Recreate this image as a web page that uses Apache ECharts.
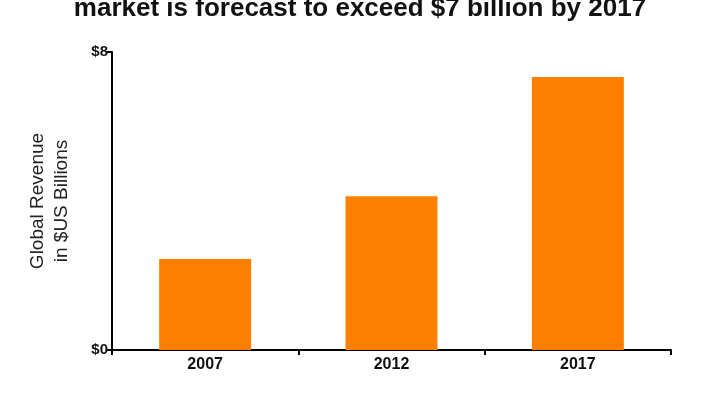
<!DOCTYPE html><html><head><meta charset="utf-8"><script src="https://cdn.jsdelivr.net/npm/echarts@6/dist/echarts.min.js"></script></head><body style="margin:0;background:#fff"><div id="c" style="width:720px;height:405px"></div><script>
const categories=['2007','2012','2017'];
const revenue=[2.44,4.13,7.33];
const yTicks=['$0','$8'];
const ch=echarts.init(document.getElementById('c'));
ch.setOption({animation:false,backgroundColor:'#fff',
title:{text:'market is forecast to exceed $7 billion by 2017',left:'center',top:-9,textStyle:{fontFamily:'Liberation Sans',fontSize:26,fontWeight:'bold',color:'#111'}},
grid:{left:112,right:49,top:52,bottom:55},
xAxis:{type:'category',data:categories,axisLine:{lineStyle:{color:'#000',width:2}},axisTick:{show:true,length:5,lineStyle:{color:'#000',width:2}},axisLabel:{color:'#111',fontFamily:'Liberation Sans',fontWeight:'bold',fontSize:16,margin:7}},
yAxis:{type:'value',min:0,max:8,interval:8,name:'Global Revenue\nin $US Billions',nameLocation:'middle',nameGap:38,nameTextStyle:{fontFamily:'Liberation Sans',fontSize:19,color:'#222',lineHeight:24},
axisLine:{show:true,lineStyle:{color:'#000',width:2}},axisTick:{show:true,length:5,lineStyle:{color:'#000',width:2}},splitLine:{show:false},
axisLabel:{color:'#111',fontFamily:'Liberation Sans',fontWeight:'bold',fontSize:15,margin:4,formatter:v=>yTicks[v/8]}},
series:[{type:'bar',data:revenue,barWidth:92,itemStyle:{color:'#ff8000'}}]});
</script></body></html>
